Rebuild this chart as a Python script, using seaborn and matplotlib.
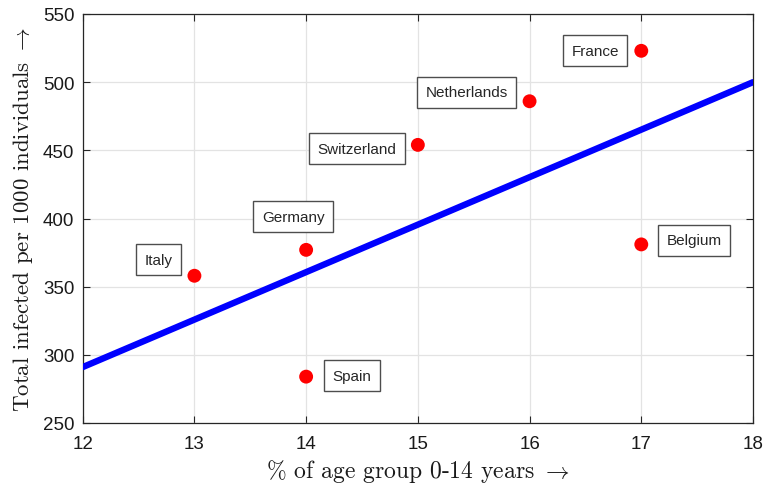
import matplotlib
matplotlib.use("Agg")
import matplotlib.pyplot as plt
import seaborn as sns
import pandas as pd

# Share of population aged 0-14 vs. total infected per 1000 individuals
countries = ["Italy", "Germany", "Spain", "Switzerland", "Netherlands", "France", "Belgium"]
age_share = [13, 14, 14, 15, 16, 17, 17]
infected = [358, 377, 284, 454, 486, 523, 381]

# Linear trend line endpoints
fit_x = [12, 18]
fit_y = [291, 500]

x_ticks = [12, 13, 14, 15, 16, 17, 18]
y_ticks = [250, 300, 350, 400, 450, 500, 550]

# Label box offsets from each point, in pixels
label_offsets = {
    "Italy": (-36, 16),
    "Germany": (-13, 33),
    "Spain": (46, 1),
    "Switzerland": (-61, -4),
    "Netherlands": (-63, 9),
    "France": (-46, 0),
    "Belgium": (53, 4),
}

df = pd.DataFrame({"country": countries, "age": age_share, "infected": infected})
fit = pd.DataFrame({"x": fit_x, "y": fit_y})

sns.set_theme(style="white")
plt.rcParams["mathtext.fontset"] = "cm"
plt.rcParams["font.family"] = ["Liberation Sans", "DejaVu Sans"]

fig = plt.figure(figsize=(7.67, 4.89), dpi=100)
ax = fig.add_axes([82.7 / 767, 1 - 424 / 489, (753 - 82.7) / 767, (424 - 15) / 489])

sns.lineplot(data=fit, x="x", y="y", ax=ax, color="#0000ff", linewidth=4.6, zorder=3)
sns.scatterplot(data=df, x="age", y="infected", ax=ax, color="#ff0000", s=100,
                edgecolor="none", zorder=4)

for c, xv, yv in zip(countries, age_share, infected):
    dx, dy = label_offsets[c]
    ax.annotate(c, (xv, yv), xytext=(dx, dy), textcoords="offset pixels",
                ha="center", va="center", fontsize=11, color="#262626",
                bbox=dict(boxstyle="square,pad=0.55", fc="white", ec="#4d4d4d", lw=1.0),
                zorder=5)

ax.set_xlim(12, 18)
ax.set_ylim(250, 550)
ax.set_xticks(x_ticks)
ax.set_yticks(y_ticks)
ax.tick_params(axis="both", labelsize=13.5, direction="in", length=5, width=0.8,
               colors="#262626", top=True, right=True, bottom=True, left=True)
ax.tick_params(axis="x", pad=9)
ax.tick_params(axis="y", pad=6)
ax.tick_params(axis="both", labelcolor="#1a1a1a")
ax.grid(True, color="#e3e3e3", linewidth=0.9)
ax.set_axisbelow(True)
for sp in ax.spines.values():
    sp.set_color("#262626")
    sp.set_linewidth(0.9)

ax.set_xlabel(r"% of age group 0-14 years $\rightarrow$", fontfamily="cmr10",
              fontsize=17, color="#1a1a1a", labelpad=3)
ax.set_ylabel(r"Total infected per 1000 individuals $\rightarrow$", fontfamily="cmr10",
              fontsize=16.5, color="#1a1a1a", labelpad=6)

fig.savefig("out.png", dpi=100)
